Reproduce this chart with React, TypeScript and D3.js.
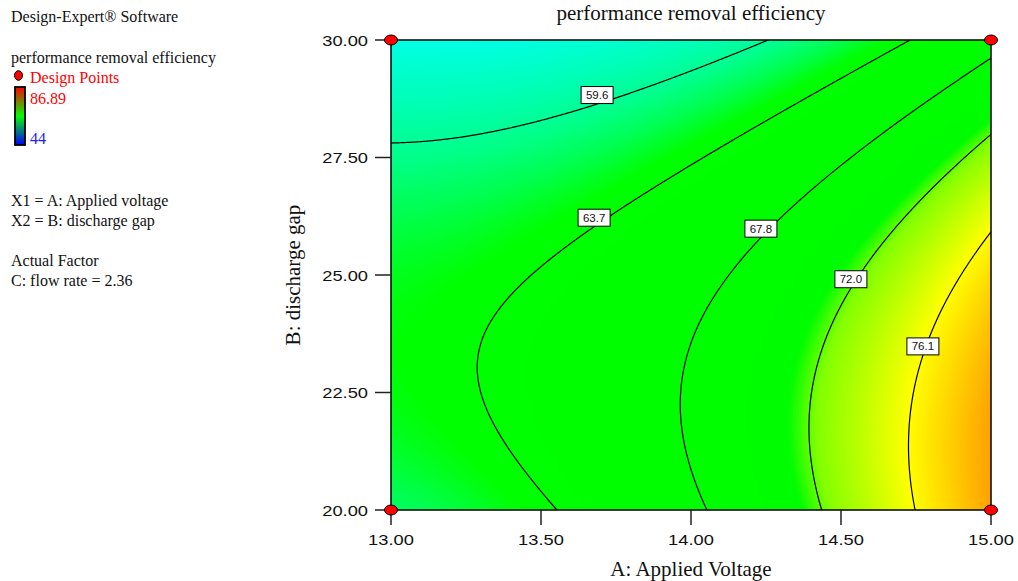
import React, { useMemo } from "react";
import * as d3 from "d3";

// ---- data ----
const rangeA = [13, 15]; // A: Applied Voltage
const rangeB = [20, 30]; // B: discharge gap
const modelTerms = ["Intercept", "A", "B", "AB", "A^2", "B^2"]; // coded-unit quadratic model
const modelCoefs = [66.8, 7.5, -4.665, -1.94, 3.15, -4.175];
const xTicks = [13, 13.5, 14, 14.5, 15];
const yTicks = [20, 22.5, 25, 27.5, 30];
const contourLevels = [59.6, 63.7, 67.8, 72.0, 76.1];
const labelAtA = [13.687, 13.677, 14.233, 14.533, 14.773];
const designA = [13, 15, 13, 15];
const designB = [20, 20, 30, 30];
const legendHigh = "86.89";
const legendLow = "44";
const sideText1 = ["X1 = A: Applied voltage", "X2 = B: discharge gap"];
const sideText2 = ["Actual Factor", "C: flow rate = 2.36"];

// ---- layout ----
const W = 1018, H = 581;
const PL = 391, PR = 991, PT = 40, PB = 510;
const serif = "'Liberation Serif', 'Times New Roman', serif";
const sans = "'Liberation Sans', Arial, sans-serif";

function predict(A: number, B: number) {
  const a = (A - (rangeA[0] + rangeA[1]) / 2) / ((rangeA[1] - rangeA[0]) / 2);
  const b = (B - (rangeB[0] + rangeB[1]) / 2) / ((rangeB[1] - rangeB[0]) / 2);
  const [c0, c1, c2, c12, c11, c22] = modelCoefs;
  return c0 + c1 * a + c2 * b + c12 * a * b + c11 * a * a + c22 * b * b;
}

const colorScale = d3
  .scaleLinear<string>()
  .domain([55.5, 58, 60, 61.5, 63, 71.2, 72.3, 76, 80])
  .range([
    "rgb(0,255,230)",
    "rgb(0,255,185)",
    "rgb(0,255,140)",
    "rgb(0,255,80)",
    "rgb(0,255,0)",
    "rgb(0,252,0)",
    "rgb(130,255,0)",
    "rgb(255,255,0)",
    "rgb(255,160,0)",
  ])
  .clamp(true);

export default function App() {
  const x = d3.scaleLinear().domain(rangeA).range([PL, PR]);
  const y = d3.scaleLinear().domain(rangeB).range([PB, PT]);

  const { fills, lines, labels } = useMemo(() => {
    const build = (nx: number, ny: number) => {
      const vals = new Array(nx * ny);
      for (let j = 0; j < ny; j++) {
        const B = rangeB[1] - (j / (ny - 1)) * (rangeB[1] - rangeB[0]);
        for (let i = 0; i < nx; i++) {
          const A = rangeA[0] + (i / (nx - 1)) * (rangeA[1] - rangeA[0]);
          vals[j * nx + i] = predict(A, B);
        }
      }
      const proj = d3.geoTransform({
        point(cx: number, cy: number) {
          const A = rangeA[0] + ((cx - 0.5) / (nx - 1)) * (rangeA[1] - rangeA[0]);
          const B = rangeB[1] - ((cy - 0.5) / (ny - 1)) * (rangeB[1] - rangeB[0]);
          (this as any).stream.point(x(A), y(B));
        },
      });
      return { vals, path: d3.geoPath(proj) };
    };
    // filled bands
    const g1 = build(241, 189);
    const thr = d3.range(50, 86, 0.1);
    const fills = d3
      .contours()
      .size([241, 189])
      .thresholds(thr)(g1.vals)
      .filter((c) => c.coordinates.length > 0)
      .map((c) => ({ d: g1.path(c as any) || "", fill: colorScale(c.value + 0.05) }));
    // contour lines
    const g2 = build(401, 314);
    const lines = d3
      .contours()
      .size([401, 314])
      .thresholds(contourLevels)(g2.vals)
      .map((c) => ({ d: g2.path(c as any) || "", value: c.value }));
    // labels: where each level crosses the chosen A, scanning from top
    const labels = contourLevels.map((lv, k) => {
      const A = labelAtA[k];
      let prevB = rangeB[1];
      let prev = predict(A, prevB) - lv;
      let found = (rangeB[0] + rangeB[1]) / 2;
      for (let s = 1; s <= 1000; s++) {
        const B = rangeB[1] - (s / 1000) * (rangeB[1] - rangeB[0]);
        const v = predict(A, B) - lv;
        if (Math.sign(v) !== Math.sign(prev)) {
          found = prevB + ((0 - prev) / (v - prev)) * (B - prevB);
          break;
        }
        prev = v;
        prevB = B;
      }
      return { cx: x(A), cy: y(found), text: lv.toFixed(1) };
    });
    return { fills, lines, labels };
  }, []);

  return (
    <svg
      width={W}
      height={H}
      style={{ position: "absolute", left: 0, top: 0, background: "#fff" }}
    >
      <defs>
        <clipPath id="plotClip">
          <rect x={PL} y={PT} width={PR - PL} height={PB - PT} />
        </clipPath>
        <linearGradient id="legendGrad" x1="0" y1="0" x2="0" y2="1">
          <stop offset="0%" stopColor="rgb(255,0,0)" />
          <stop offset="50%" stopColor="rgb(0,255,0)" />
          <stop offset="100%" stopColor="rgb(0,0,255)" />
        </linearGradient>
      </defs>

      {/* side legend */}
      <g fontFamily={serif} fontSize={16} fill="#111">
        <text x={11} y={22}>Design-Expert® Software</text>
        <text x={11} y={63}>performance removal efficiency</text>
        <ellipse cx={18.5} cy={75.5} rx={4} ry={4.8} fill="#ff0000" stroke="#000" strokeWidth={1} />
        <text x={30} y={83} fill="#ff0000">Design Points</text>
        <rect x={15} y={87} width={10} height={58} fill="url(#legendGrad)" stroke="#000" strokeWidth={1.8} />
        <text x={30} y={104} fill="#ff0000">{legendHigh}</text>
        <text x={30} y={144} fill="#2020ff">{legendLow}</text>
        {sideText1.map((t, i) => (
          <text key={t} x={11} y={206 + i * 20}>{t}</text>
        ))}
        {sideText2.map((t, i) => (
          <text key={t} x={11} y={266 + i * 20}>{t}</text>
        ))}
      </g>

      {/* surface */}
      <g clipPath="url(#plotClip)">
        <rect x={PL} y={PT} width={PR - PL} height={PB - PT} fill={colorScale(50)} />
        {fills.map((f, i) => (
          <path key={i} d={f.d} fill={f.fill} stroke="none" />
        ))}
        {lines.map((l) => (
          <path key={l.value} d={l.d} fill="none" stroke="#000" strokeWidth={1.2} />
        ))}
      </g>

      {/* contour labels (box sits just above its point on the line) */}
      {labels.map((lb) => (
        <g key={lb.text}>
          <rect x={lb.cx - 16} y={lb.cy - 17.5} width={32} height={17} fill="#fff" stroke="#000" strokeWidth={1} />
          <text x={lb.cx} y={lb.cy - 5} textAnchor="middle" fontFamily={sans} fontSize={11.5} fill="#111">
            {lb.text}
          </text>
        </g>
      ))}

      {/* frame */}
      <rect x={PL} y={PT} width={PR - PL} height={PB - PT} fill="none" stroke="#000" strokeWidth={1.5} />

      {/* axes ticks */}
      {xTicks.map((t) => (
        <g key={"x" + t}>
          <line x1={x(t)} x2={x(t)} y1={PB} y2={PB + 15} stroke="#222" strokeWidth={1.5} />
          <text
            transform={`translate(${x(t)},${PB + 35}) scale(1.22,1)`}
            textAnchor="middle"
            fontFamily={sans}
            fontSize={15}
            fill="#111"
          >
            {t.toFixed(2)}
          </text>
        </g>
      ))}
      {yTicks.map((t) => (
        <g key={"y" + t}>
          <line x1={PL - 16} x2={PL} y1={y(t)} y2={y(t)} stroke="#222" strokeWidth={1.5} />
          <text
            transform={`translate(${PL - 23},${y(t) + 5.5}) scale(1.22,1)`}
            textAnchor="end"
            fontFamily={sans}
            fontSize={15}
            fill="#111"
          >
            {t.toFixed(2)}
          </text>
        </g>
      ))}

      {/* design points */}
      {designA.map((a, i) => (
        <ellipse key={i} cx={x(a)} cy={y(designB[i])} rx={6.5} ry={5} fill="#ff0000" stroke="#000" strokeWidth={1} />
      ))}

      {/* titles */}
      <text x={(PL + PR) / 2} y={20} textAnchor="middle" fontFamily={serif} fontSize={21} fill="#111">
        performance removal efficiency
      </text>
      <text x={(PL + PR) / 2} y={576} textAnchor="middle" fontFamily={serif} fontSize={21} fill="#111">
        A: Applied Voltage
      </text>
      <text
        transform={`translate(300,${(PT + PB) / 2}) rotate(-90)`}
        textAnchor="middle"
        fontFamily={serif}
        fontSize={21}
        fill="#111"
      >
        B: discharge gap
      </text>
    </svg>
  );
}
